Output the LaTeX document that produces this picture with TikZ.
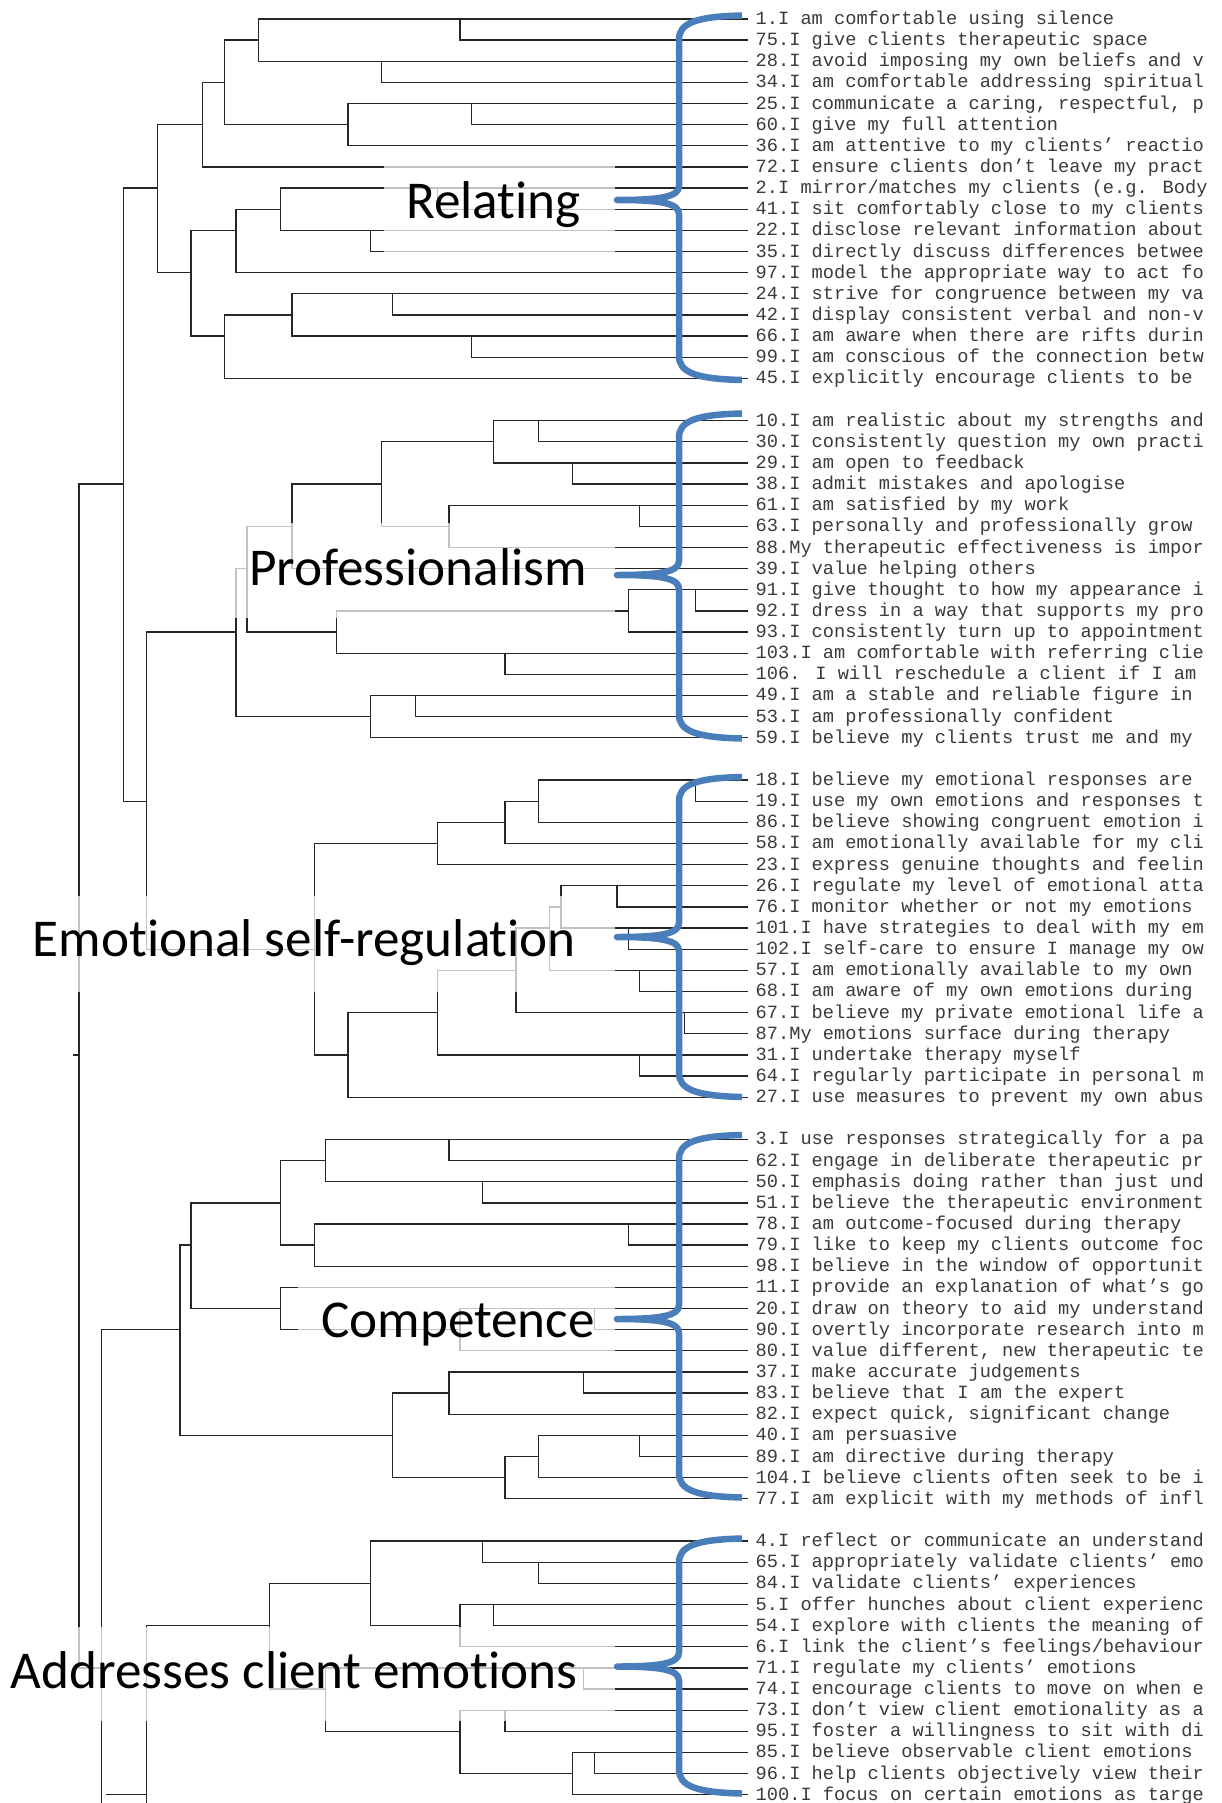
\documentclass[tikz,border=0pt]{standalone}
\usepackage{fontspec}
\newfontfamily\leaffont{Liberation Mono}
\newfontfamily\labelfont[Ligatures={NoCommon}]{Carlito}
\definecolor{treeline}{HTML}{262626}
\definecolor{braceblue}{RGB}{74,126,187}
\definecolor{leafink}{HTML}{3A3A3A}

\tikzset{
  dline/.style={draw=treeline, line width=1.3pt, line cap=rect},
  leaflbl/.style={anchor=base west, inner sep=0pt, text=leafink,
    font=\leaffont\fontsize{18.67}{20}\selectfont},
  grouplbl/.style={anchor=base west, inner sep=0pt, text=black,
    font=\labelfont\fontsize{53.2}{64}\selectfont},
  veil/.style={fill=white, fill opacity=0.72},
  bracestroke/.style={draw=braceblue, line width=6.5pt, line join=round, line cap=butt}
}

% tree grid: x in character columns, y in text rows
\newcommand\hseg[3]{\draw[dline] (#2,#1) -- (#3,#1);}      % row, from col, to col
\newcommand\vseg[3]{\draw[dline] (#1,#2) -- (#1,#3);}      % col, from row, to row
\newcommand\leafseg[2]{\draw[dline] (#2,#1) -- (59.6,#1);} % row, start col
\newcommand\itemtext[3]{\node[leaflbl] (#1) at (60.36,{#2+0.26}) {#3};}
% curly bracket: top end, tip, bottom end (page y)
\newcommand\groupbrace[3]{%
  \draw[bracestroke] (742,#1) .. controls (695,#1+1) and (679,#1+8) .. (679,#1+24)
    -- (679,#2-14) .. controls (679,#2-3) and (660,#2) .. (617,#2)
    .. controls (660,#2) and (679,#2+3) .. (679,#2+14)
    -- (679,#3-24) .. controls (679,#3-8) and (695,#3-1) .. (742,#3);}

\begin{document}
\begin{tikzpicture}[x=1pt,y=-1pt]
\useasboundingbox (0,0) rectangle (1221,1803);
\clip (0,0) rectangle (1221,1803);

\begin{scope}[shift={(79,19)}, x=11.208pt, y=-21.14pt]
% ---- Relating
\leafseg{0}{16} \leafseg{1}{34} \hseg{1}{13}{16} \leafseg{2}{16}
\leafseg{3}{27} \hseg{3}{11}{13} \leafseg{4}{24} \leafseg{5}{35}
\hseg{5}{13}{24} \hseg{5}{7}{11} \leafseg{6}{24} \leafseg{7}{11}
\leafseg{8}{18} \hseg{8}{4}{7} \leafseg{9}{32} \hseg{9}{14}{18}
\leafseg{10}{18} \hseg{10}{10}{14} \leafseg{11}{26} \leafseg{12}{14}
\hseg{12}{7}{10} \leafseg{13}{19} \leafseg{14}{28} \hseg{14}{13}{19}
\leafseg{15}{19} \hseg{15}{10}{13} \leafseg{16}{35} \leafseg{17}{13}
\vseg{34}{0}{1} \vseg{16}{0}{2} \vseg{27}{2}{3} \vseg{35}{4}{5}
\vseg{24}{4}{6} \vseg{13}{1}{5} \vseg{11}{3}{7} \vseg{7}{5}{12}
\vseg{32}{8}{9} \vseg{26}{10}{11} \vseg{18}{8}{10} \vseg{14}{9}{12}
\vseg{28}{13}{14} \vseg{35}{15}{16} \vseg{19}{13}{15} \vseg{13}{14}{17}
\vseg{10}{10}{15} \vseg{4}{8}{37}
% ---- Professionalism
\leafseg{19}{37} \leafseg{20}{41} \hseg{20}{27}{37} \leafseg{21}{37}
\leafseg{22}{44} \hseg{22}{19}{27} \hseg{22}{0}{4} \leafseg{23}{33}
\leafseg{24}{50} \hseg{24}{27}{33} \hseg{24}{15}{19} \leafseg{25}{33}
\leafseg{26}{19} \hseg{26}{14}{15} \leafseg{27}{49} \leafseg{28}{55}
\hseg{28}{23}{49} \leafseg{29}{49} \hseg{29}{15}{23} \hseg{29}{6}{14}
\leafseg{30}{23} \leafseg{31}{38} \leafseg{32}{26} \leafseg{33}{30}
\hseg{33}{14}{26} \leafseg{34}{26}
\vseg{41}{19}{20} \vseg{44}{21}{22} \vseg{37}{19}{21} \vseg{27}{20}{24}
\vseg{50}{23}{24} \vseg{33}{23}{25} \vseg{19}{22}{26} \vseg{15}{24}{29}
\vseg{55}{27}{28} \vseg{49}{27}{29} \vseg{38}{30}{31} \vseg{23}{28}{30}
\vseg{30}{32}{33} \vseg{26}{32}{34} \vseg{14}{26}{33} \vseg{6}{29}{44}
\vseg{0}{22}{78}
% ---- Emotional self-regulation
\leafseg{36}{41} \leafseg{37}{55} \hseg{37}{38}{41} \hseg{37}{4}{6}
\leafseg{38}{41} \hseg{38}{32}{38} \leafseg{39}{38} \hseg{39}{21}{32}
\leafseg{40}{32} \leafseg{41}{43} \leafseg{42}{48} \hseg{42}{42}{43}
\leafseg{43}{43} \hseg{43}{39}{42} \leafseg{44}{49} \hseg{44}{6}{21}
\leafseg{45}{42} \hseg{45}{32}{39} \leafseg{46}{50} \leafseg{47}{39}
\hseg{47}{24}{32} \leafseg{48}{54} \leafseg{49}{32} \hseg{49}{21}{24}
\hseg{49}{-0.47}{0} \leafseg{50}{50} \leafseg{51}{24}
\vseg{55}{36}{37} \vseg{41}{36}{38} \vseg{38}{37}{39} \vseg{32}{38}{40}
\vseg{48}{41}{42} \vseg{49}{43}{44} \vseg{43}{41}{43} \vseg{50}{45}{46}
\vseg{42}{42}{45} \vseg{54}{47}{48} \vseg{39}{43}{47} \vseg{50}{49}{50}
\vseg{32}{45}{49} \vseg{24}{47}{51} \vseg{21}{39}{49}
% ---- Competence
\leafseg{53}{22} \leafseg{54}{33} \hseg{54}{18}{22} \leafseg{55}{22}
\leafseg{56}{36} \hseg{56}{10}{18} \leafseg{57}{21} \leafseg{58}{49}
\hseg{58}{18}{21} \hseg{58}{9}{10} \leafseg{59}{21} \leafseg{60}{18}
\hseg{61}{10}{18} \leafseg{61}{34} \leafseg{62}{46} \hseg{62}{18}{34}
\hseg{62}{2}{9} \leafseg{63}{34} \leafseg{64}{33} \leafseg{65}{45}
\hseg{65}{28}{33} \leafseg{66}{33} \leafseg{67}{41} \hseg{67}{9}{28}
\leafseg{68}{50} \hseg{68}{38}{41} \leafseg{69}{41} \hseg{69}{28}{38}
\leafseg{70}{38}
\vseg{33}{53}{54} \vseg{36}{55}{56} \vseg{22}{53}{55} \vseg{49}{57}{58}
\vseg{21}{57}{59} \vseg{18}{54}{58} \vseg{46}{61}{62} \vseg{34}{61}{63}
\vseg{18}{60}{62} \vseg{10}{56}{61} \vseg{45}{64}{65} \vseg{33}{64}{66}
\vseg{50}{67}{68} \vseg{41}{67}{69} \vseg{38}{68}{70} \vseg{28}{65}{69}
\vseg{9}{58}{67} \vseg{2}{62}{85}
% ---- Addresses client emotions
\leafseg{72}{26} \leafseg{73}{36} \leafseg{74}{41} \hseg{74}{17}{26}
\leafseg{75}{34} \leafseg{76}{37} \hseg{76}{26}{34} \hseg{76}{6}{17}
\leafseg{77}{34} \leafseg{78}{22} \hseg{78}{0}{2} \leafseg{79}{45}
\hseg{79}{17}{22} \leafseg{80}{34} \leafseg{81}{38} \hseg{81}{22}{34}
\leafseg{82}{44} \leafseg{83}{46} \hseg{83}{34}{44} \leafseg{84}{44}
\hseg{84}{2.5}{6}
\vseg{36}{72}{73} \vseg{41}{73}{74} \vseg{37}{75}{76} \vseg{34}{75}{77}
\vseg{26}{72}{76} \vseg{45}{78}{79} \vseg{38}{80}{81} \vseg{46}{82}{83}
\vseg{44}{82}{84} \vseg{34}{80}{83} \vseg{22}{78}{81} \vseg{17}{74}{79}
\vseg{6}{76}{85}
\end{scope}

% translucent panels behind the cluster names
\fill[veil] (384,158) rectangle (615,258);
\fill[veil] (228,523) rectangle (615,618);
\fill[veil] (18,896) rectangle (615,992);
\fill[veil] (298,1278) rectangle (615,1370);
\fill[veil] (0,1627) rectangle (615,1721);

\node[grouplbl] (gRel)  at (406,218.3) {Relating};
\node[grouplbl] (gProf) at (249,585)   {Professionalism};
\node[grouplbl] (gEmo)  at (32.5,956)  {Emotional self-regulation};
\node[grouplbl] (gComp) at (321,1337)  {Competence};
\node[grouplbl] (gAddr) at (10.5,1688) {Addresses client emotions};

\groupbrace{15.5}{200}{380}
\groupbrace{413.5}{575}{738.5}
\groupbrace{777}{937}{1097}
\groupbrace{1135}{1319}{1497.5}
\groupbrace{1538.5}{1666.5}{1793.5}

\begin{scope}[shift={(79,19)}, x=11.208pt, y=-21.14pt]
\itemtext{i1}{0}{1.I am comfortable using silence}
\itemtext{i75}{1}{75.I give clients therapeutic space}
\itemtext{i28}{2}{28.I avoid imposing my own beliefs and v}
\itemtext{i34}{3}{34.I am comfortable addressing spiritual}
\itemtext{i25}{4}{25.I communicate a caring, respectful, p}
\itemtext{i60}{5}{60.I give my full attention}
\itemtext{i36}{6}{36.I am attentive to my clients’ reactio}
\itemtext{i72}{7}{72.I ensure clients don’t leave my pract}
\itemtext{i2}{8}{2.I mirror/matches my clients (e.g. Body}
\itemtext{i41}{9}{41.I sit comfortably close to my clients}
\itemtext{i22}{10}{22.I disclose relevant information about}
\itemtext{i35}{11}{35.I directly discuss differences betwee}
\itemtext{i97}{12}{97.I model the appropriate way to act fo}
\itemtext{i24}{13}{24.I strive for congruence between my va}
\itemtext{i42}{14}{42.I display consistent verbal and non-v}
\itemtext{i66}{15}{66.I am aware when there are rifts durin}
\itemtext{i99}{16}{99.I am conscious of the connection betw}
\itemtext{i45}{17}{45.I explicitly encourage clients to be}
\itemtext{i10}{19}{10.I am realistic about my strengths and}
\itemtext{i30}{20}{30.I consistently question my own practi}
\itemtext{i29}{21}{29.I am open to feedback}
\itemtext{i38}{22}{38.I admit mistakes and apologise}
\itemtext{i61}{23}{61.I am satisfied by my work}
\itemtext{i63}{24}{63.I personally and professionally grow}
\itemtext{i88}{25}{88.My therapeutic effectiveness is impor}
\itemtext{i39}{26}{39.I value helping others}
\itemtext{i91}{27}{91.I give thought to how my appearance i}
\itemtext{i92}{28}{92.I dress in a way that supports my pro}
\itemtext{i93}{29}{93.I consistently turn up to appointment}
\itemtext{i103}{30}{103.I am comfortable with referring clie}
\itemtext{i106}{31}{106. I will reschedule a client if I am}
\itemtext{i49}{32}{49.I am a stable and reliable figure in}
\itemtext{i53}{33}{53.I am professionally confident}
\itemtext{i59}{34}{59.I believe my clients trust me and my}
\itemtext{i18}{36}{18.I believe my emotional responses are}
\itemtext{i19}{37}{19.I use my own emotions and responses t}
\itemtext{i86}{38}{86.I believe showing congruent emotion i}
\itemtext{i58}{39}{58.I am emotionally available for my cli}
\itemtext{i23}{40}{23.I express genuine thoughts and feelin}
\itemtext{i26}{41}{26.I regulate my level of emotional atta}
\itemtext{i76}{42}{76.I monitor whether or not my emotions}
\itemtext{i101}{43}{101.I have strategies to deal with my em}
\itemtext{i102}{44}{102.I self-care to ensure I manage my ow}
\itemtext{i57}{45}{57.I am emotionally available to my own}
\itemtext{i68}{46}{68.I am aware of my own emotions during}
\itemtext{i67}{47}{67.I believe my private emotional life a}
\itemtext{i87}{48}{87.My emotions surface during therapy}
\itemtext{i31}{49}{31.I undertake therapy myself}
\itemtext{i64}{50}{64.I regularly participate in personal m}
\itemtext{i27}{51}{27.I use measures to prevent my own abus}
\itemtext{i3}{53}{3.I use responses strategically for a pa}
\itemtext{i62}{54}{62.I engage in deliberate therapeutic pr}
\itemtext{i50}{55}{50.I emphasis doing rather than just und}
\itemtext{i51}{56}{51.I believe the therapeutic environment}
\itemtext{i78}{57}{78.I am outcome-focused during therapy}
\itemtext{i79}{58}{79.I like to keep my clients outcome foc}
\itemtext{i98}{59}{98.I believe in the window of opportunit}
\itemtext{i11}{60}{11.I provide an explanation of what’s go}
\itemtext{i20}{61}{20.I draw on theory to aid my understand}
\itemtext{i90}{62}{90.I overtly incorporate research into m}
\itemtext{i80}{63}{80.I value different, new therapeutic te}
\itemtext{i37}{64}{37.I make accurate judgements}
\itemtext{i83}{65}{83.I believe that I am the expert}
\itemtext{i82}{66}{82.I expect quick, significant change}
\itemtext{i40}{67}{40.I am persuasive}
\itemtext{i89}{68}{89.I am directive during therapy}
\itemtext{i104}{69}{104.I believe clients often seek to be i}
\itemtext{i77}{70}{77.I am explicit with my methods of infl}
\itemtext{i4}{72}{4.I reflect or communicate an understand}
\itemtext{i65}{73}{65.I appropriately validate clients’ emo}
\itemtext{i84}{74}{84.I validate clients’ experiences}
\itemtext{i5}{75}{5.I offer hunches about client experienc}
\itemtext{i54}{76}{54.I explore with clients the meaning of}
\itemtext{i6}{77}{6.I link the client’s feelings/behaviour}
\itemtext{i71}{78}{71.I regulate my clients’ emotions}
\itemtext{i74}{79}{74.I encourage clients to move on when e}
\itemtext{i73}{80}{73.I don’t view client emotionality as a}
\itemtext{i95}{81}{95.I foster a willingness to sit with di}
\itemtext{i85}{82}{85.I believe observable client emotions}
\itemtext{i96}{83}{96.I help clients objectively view their}
\itemtext{i100}{84}{100.I focus on certain emotions as targe}
\end{scope}
\end{tikzpicture}
\end{document}
